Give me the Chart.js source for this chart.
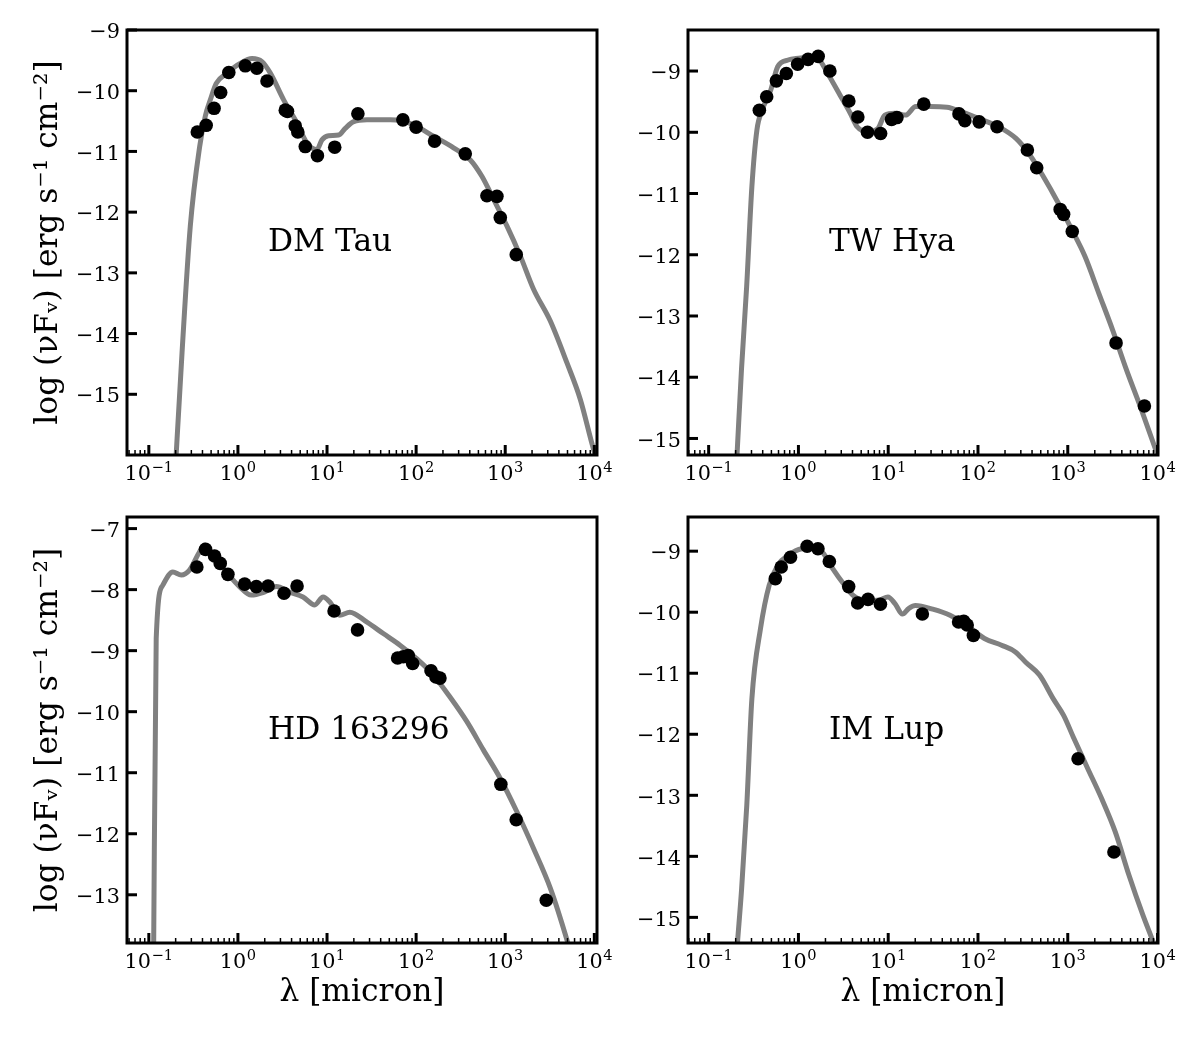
<!DOCTYPE html>
<html>
<head>
<meta charset="utf-8">
<script src="https://cdn.jsdelivr.net/npm/chart.js@4.4.0/dist/chart.umd.min.js"></script>
<style>
  body { margin: 0; background: #fff; }
  #fig { position: relative; width: 1200px; height: 1050px; background: #fff; }
  canvas { position: absolute; }
</style>
</head>
<body>
<div id="fig">
  <canvas id="dmtau" width="627" height="495" style="left:0px;top:0px"></canvas>
  <canvas id="twhya" width="620" height="495" style="left:568px;top:0px"></canvas>
  <canvas id="hd163296" width="627" height="536" style="left:0px;top:487px"></canvas>
  <canvas id="imlup" width="620" height="536" style="left:568px;top:487px"></canvas>
</div>
<script>
// axis ticks: x labels are 10 raised to these exponents
const xTickValues = [0.1, 1, 10, 100, 1000, 10000];
const xTickExponents = ['\u22121', '0', '1', '2', '3', '4'];

// DM Tau
const dmTauObsLam  = [0.35, 0.44, 0.54, 0.64, 0.79, 1.21, 1.63, 2.12, 3.4, 3.6, 4.4, 4.7, 5.7, 7.8, 12.2, 22.2, 71, 100, 161, 356, 623, 807, 880, 1330];
const dmTauObsFlux = [-10.68, -10.57, -10.29, -10.03, -9.70, -9.59, -9.63, -9.84, -10.32, -10.34, -10.58, -10.68, -10.92, -11.07, -10.93, -10.38, -10.48, -10.60, -10.83, -11.04, -11.73, -11.74, -12.09, -12.70];
const dmTauModelLam  = [0.178, 0.203, 0.236, 0.292, 0.372, 0.430, 0.490, 0.571, 0.753, 1.06, 1.44, 1.86, 2.31, 3.26, 4.59, 5.94, 7.71, 8.77, 10.4, 13.5, 16.0, 19.9, 28.1, 51.3, 66.4, 93.5, 157, 263, 406, 547, 741, 1047, 1476, 2080, 3199, 4920, 6950, 9772, 12590];
const dmTauModelFlux = [-17.5, -15.98, -14.31, -12.23, -10.92, -10.42, -10.15, -9.88, -9.71, -9.55, -9.47, -9.52, -9.71, -10.15, -10.53, -10.86, -10.97, -10.81, -10.74, -10.73, -10.62, -10.51, -10.48, -10.48, -10.49, -10.56, -10.75, -10.94, -11.14, -11.41, -11.79, -12.23, -12.72, -13.27, -13.79, -14.48, -15.08, -15.90, -16.4];
const dmTauYTicks = [-15, -14, -13, -12, -11, -10, -9];

// TW Hya
const twHyaObsLam  = [0.367, 0.443, 0.568, 0.733, 0.98, 1.28, 1.66, 2.24, 3.64, 4.59, 5.88, 8.23, 10.9, 12.5, 24.9, 61.4, 71.4, 103, 163, 355, 451, 823, 899, 1122, 3450, 7140];
const twHyaObsFlux = [-9.64, -9.42, -9.16, -9.04, -8.89, -8.81, -8.76, -9.00, -9.49, -9.75, -10.00, -10.02, -9.79, -9.76, -9.54, -9.70, -9.81, -9.83, -9.91, -10.29, -10.58, -11.26, -11.34, -11.62, -13.44, -14.47];
const twHyaModelLam  = [0.179, 0.207, 0.232, 0.265, 0.303, 0.345, 0.394, 0.492, 0.587, 0.767, 1.0, 1.43, 1.70, 2.12, 2.90, 3.78, 4.51, 5.87, 7.67, 9.16, 11.9, 15.6, 20.3, 29.0, 45.1, 64.3, 100, 170, 265, 378, 538, 767, 1091, 1556, 2218, 3162, 4508, 6427, 9572, 12590];
const twHyaModelFlux = [-17.0, -15.27, -13.88, -12.52, -10.89, -9.96, -9.64, -9.31, -8.93, -8.82, -8.79, -8.77, -8.81, -9.04, -9.39, -9.69, -9.91, -9.99, -9.94, -9.72, -9.69, -9.72, -9.58, -9.58, -9.59, -9.66, -9.77, -9.91, -10.10, -10.37, -10.73, -11.13, -11.57, -12.03, -12.63, -13.23, -13.88, -14.48, -15.19, -15.7];
const twHyaYTicks = [-15, -14, -13, -12, -11, -10, -9];

// HD 163296
const hdObsLam  = [0.346, 0.433, 0.547, 0.633, 0.772, 1.19, 1.61, 2.18, 3.29, 4.61, 12.0, 22.0, 62, 71.8, 81.7, 91.4, 147, 167, 185, 893, 1328, 2890];
const hdObsFlux = [-7.63, -7.34, -7.45, -7.57, -7.75, -7.91, -7.95, -7.94, -8.06, -7.94, -8.35, -8.66, -9.12, -9.10, -9.08, -9.21, -9.33, -9.43, -9.45, -11.19, -11.77, -13.09];
const hdModelLam  = [0.1125, 0.121, 0.143, 0.186, 0.231, 0.286, 0.371, 0.422, 0.524, 0.740, 1.04, 1.41, 1.91, 2.70, 3.81, 5.38, 7.28, 9.04, 10.7, 13.9, 18.0, 27.8, 42.8, 65.9, 101, 156, 240, 370, 570, 877, 1352, 2080, 3206, 4932, 6310];
const hdModelFlux = [-14.5, -8.80, -7.93, -7.71, -7.76, -7.68, -7.38, -7.27, -7.44, -7.71, -7.95, -8.09, -8.05, -7.95, -8.04, -8.12, -8.25, -8.12, -8.20, -8.42, -8.37, -8.53, -8.72, -8.91, -9.13, -9.40, -9.76, -10.16, -10.63, -11.09, -11.64, -12.24, -12.89, -13.74, -14.3];
const hdYTicks = [-13, -12, -11, -10, -9, -8, -7];

// IM Lup
const imLupObsLam  = [0.553, 0.643, 0.816, 1.25, 1.65, 2.21, 3.63, 4.57, 5.96, 8.19, 24.0, 60.8, 69.4, 75.8, 88.9, 1303, 3266];
const imLupObsFlux = [-9.45, -9.26, -9.10, -8.92, -8.96, -9.17, -9.58, -9.85, -9.79, -9.87, -10.03, -10.16, -10.15, -10.21, -10.38, -12.40, -13.93];
const imLupModelLam  = [0.174, 0.209, 0.233, 0.266, 0.303, 0.378, 0.472, 0.589, 0.767, 1.09, 1.42, 1.86, 2.42, 3.16, 4.11, 5.85, 7.96, 9.93, 11.9, 14.4, 16.9, 20.1, 31.3, 48.8, 75.7, 118, 183, 261, 340, 484, 690, 899, 1172, 1667, 2377, 3381, 4808, 6855, 8933, 12590];
const imLupModelFlux = [-17.0, -15.43, -14.53, -13.16, -11.42, -10.27, -9.56, -9.23, -9.07, -8.96, -8.95, -9.02, -9.29, -9.53, -9.73, -9.81, -9.80, -9.75, -9.86, -10.03, -9.94, -9.89, -9.95, -10.05, -10.22, -10.43, -10.54, -10.65, -10.82, -11.03, -11.42, -11.69, -12.07, -12.56, -13.05, -13.60, -14.31, -14.96, -15.40, -16.0];
const imLupYTicks = [-15, -14, -13, -12, -11, -10, -9];

const FONT = '"DejaVu Serif", serif';
Chart.defaults.font.family = FONT;
Chart.defaults.color = '#000';

const TICK_PX = 20.8;
const EXP_PX = 14.6;

// inward ticks, tick labels, frame and the object name, drawn with the chart's own scales
const sedFrame = {
  id: 'sedFrame',
  afterDraw(chart, args, opts) {
    const { ctx, chartArea: a, scales: { x, y } } = chart;
    ctx.save();
    ctx.strokeStyle = '#000';
    ctx.fillStyle = '#000';
    ctx.lineCap = 'butt';
    const seg = (x1, y1, x2, y2) => { ctx.beginPath(); ctx.moveTo(x1, y1); ctx.lineTo(x2, y2); ctx.stroke(); };

    // y ticks + labels
    ctx.lineWidth = 3;
    ctx.font = TICK_PX + 'px ' + FONT;
    ctx.textAlign = 'right';
    ctx.textBaseline = 'alphabetic';
    y.ticks.forEach(t => {
      const py = y.getPixelForValue(t.value);
      seg(a.left, py, a.left + 10, py);
      ctx.fillText('\u2212' + Math.abs(t.value), a.left - 7, py + 8.2);
    });

    // x ticks (major decades, minor 2..9)
    for (let e = -2; e <= 4; e++) {
      for (let k = 1; k <= 9; k++) {
        const v = k * Math.pow(10, e);
        if (v < x.min || v > x.max) continue;
        const px = x.getPixelForValue(v);
        if (k === 1) { ctx.lineWidth = 3; seg(px, a.bottom, px, a.bottom - 10); }
        else { ctx.lineWidth = 1.5; seg(px, a.bottom, px, a.bottom - 5); }
      }
    }
    // x labels: 10 with raised exponent
    ctx.textAlign = 'left';
    x.ticks.forEach((t, i) => {
      const px = x.getPixelForValue(t.value);
      ctx.font = TICK_PX + 'px ' + FONT;
      const wb = ctx.measureText('10').width;
      ctx.font = EXP_PX + 'px ' + FONT;
      const we = ctx.measureText(xTickExponents[i]).width;
      const x0 = px - (wb + 0.5 + we) / 2;
      const base = a.bottom + 25;
      ctx.font = TICK_PX + 'px ' + FONT;
      ctx.fillText('10', x0, base);
      ctx.font = EXP_PX + 'px ' + FONT;
      ctx.fillText(xTickExponents[i], x0 + wb + 0.5, base - 7.7);
    });

    ctx.lineWidth = 3;
    ctx.strokeRect(a.left, a.top, a.right - a.left, a.bottom - a.top);

    ctx.font = '31.25px ' + FONT;
    ctx.fillText(opts.text, a.left + 0.30 * (a.right - a.left), a.top + 0.52 * (a.bottom - a.top));
    ctx.restore();
  }
};

function makeSed(id, name, obsLam, obsFlux, modLam, modFlux, yTicks, xRange, yRange, leftCol, bottomRow) {
  return new Chart(document.getElementById(id), {
    type: 'scatter',
    data: {
      datasets: [
        {
          data: obsLam.map((l, i) => ({ x: l, y: obsFlux[i] })),
          backgroundColor: '#000',
          borderWidth: 0,
          pointRadius: 6.8,
          pointHoverRadius: 6.8,
          clip: false
        },
        {
          data: modLam.map((l, i) => ({ x: l, y: modFlux[i] })),
          showLine: true,
          borderColor: '#808080',
          borderWidth: 5,
          pointRadius: 0,
          pointHoverRadius: 0,
          cubicInterpolationMode: 'monotone',
          clip: 0
        }
      ]
    },
    options: {
      responsive: false,
      animation: false,
      devicePixelRatio: 1,
      events: [],
      layout: { padding: { top: 30, right: 30, left: 0, bottom: 0 } },
      plugins: {
        legend: { display: false },
        tooltip: { enabled: false },
        sedFrame: { text: name }
      },
      scales: {
        x: {
          type: 'logarithmic',
          min: xRange[0],
          max: xRange[1],
          bounds: 'data',
          grid: { display: false, drawTicks: false },
          border: { display: false },
          afterBuildTicks: ax => { ax.ticks = xTickValues.map(v => ({ value: v })); },
          afterFit: ax => { ax.height = bottomRow ? 80 : 40; },
          ticks: { display: false },
          title: {
            display: bottomRow,
            text: 'λ [micron]',
            font: { size: 31.25 },
            padding: { top: 0, bottom: 11.5 }
          }
        },
        y: {
          type: 'linear',
          min: yRange[0],
          max: yRange[1],
          bounds: 'data',
          grid: { display: false, drawTicks: false },
          border: { display: false },
          afterBuildTicks: ax => { ax.ticks = yTicks.map(v => ({ value: v })); },
          afterFit: ax => { ax.width = leftCol ? 127 : 120; },
          ticks: { display: false },
          title: {
            display: leftCol,
            text: 'log (νFᵥ) [erg s⁻¹ cm⁻²]',
            font: { size: 31.25 },
            padding: { top: 30, bottom: 0 }
          }
        }
      }
    },
    plugins: [sedFrame]
  });
}

const leftX = [Math.pow(10, -1.245), Math.pow(10, 4.03)];
const rightX = [Math.pow(10, -1.23), Math.pow(10, 4.005)];

makeSed('dmtau', 'DM Tau', dmTauObsLam, dmTauObsFlux, dmTauModelLam, dmTauModelFlux, dmTauYTicks, leftX, [-16.0, -9.0], true, false);
makeSed('twhya', 'TW Hya', twHyaObsLam, twHyaObsFlux, twHyaModelLam, twHyaModelFlux, twHyaYTicks, rightX, [-15.27, -8.33], false, false);
makeSed('hd163296', 'HD 163296', hdObsLam, hdObsFlux, hdModelLam, hdModelFlux, hdYTicks, leftX, [-13.79, -6.81], true, true);
makeSed('imlup', 'IM Lup', imLupObsLam, imLupObsFlux, imLupModelLam, imLupModelFlux, imLupYTicks, rightX, [-15.42, -8.44], false, true);
</script>
</body>
</html>
